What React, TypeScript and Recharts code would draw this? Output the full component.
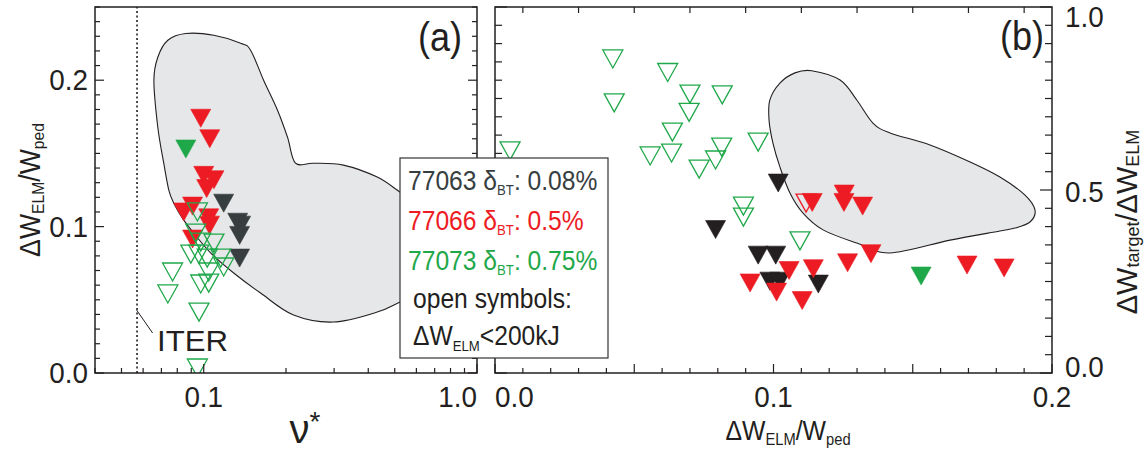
import React from "react";
import { ScatterChart, Scatter, XAxis, YAxis, ReferenceLine } from "recharts";

const FONT = "'Liberation Sans', Arial, Helvetica, sans-serif";
const INK = "#231f20";
const RED = "#ed1c24";
const GREEN = "#1fa84a";
const SLATE = "#373e40";
const BLACK = "#231f20";
const BLOB = "#e6e7e8";

// ---- panel (a): nu* vs dW_ELM/W_ped ----
const blobA = [
  { x: 0.086, y: 0.2319 }, { x: 0.1088, y: 0.2307 }, { x: 0.1365, y: 0.2253 }, { x: 0.1484, y: 0.2205 },
  { x: 0.1656, y: 0.2 }, { x: 0.1862, y: 0.1795 }, { x: 0.2026, y: 0.161 }, { x: 0.2167, y: 0.1433 },
  { x: 0.252, y: 0.1433 }, { x: 0.3243, y: 0.142 }, { x: 0.4315, y: 0.1338 }, { x: 0.5236, y: 0.1235 },
  { x: 0.619, y: 0.1147 }, { x: 0.733, y: 0.101 }, { x: 0.764, y: 0.084 }, { x: 0.703, y: 0.0635 },
  { x: 0.594, y: 0.0519 }, { x: 0.524, y: 0.0485 }, { x: 0.4315, y: 0.0416 }, { x: 0.2984, y: 0.0348 },
  { x: 0.2131, y: 0.0396 }, { x: 0.1614, y: 0.0546 }, { x: 0.1287, y: 0.0683 }, { x: 0.1061, y: 0.0819 },
  { x: 0.0919, y: 0.0956 }, { x: 0.0845, y: 0.1044 }, { x: 0.0777, y: 0.116 }, { x: 0.0745, y: 0.1249 },
  { x: 0.0714, y: 0.1433 }, { x: 0.0679, y: 0.1679 }, { x: 0.0657, y: 0.2 }, { x: 0.0679, y: 0.2157 },
  { x: 0.0739, y: 0.2273 },
];
const red77066A = [
  { x: 0.0975, y: 0.174 }, { x: 0.1052, y: 0.16 }, { x: 0.1, y: 0.135 }, { x: 0.109, y: 0.132 },
  { x: 0.1025, y: 0.126 }, { x: 0.091, y: 0.114 }, { x: 0.0845, y: 0.11 }, { x: 0.1043, y: 0.106 },
  { x: 0.105, y: 0.101 }, { x: 0.091, y: 0.0915 },
];
const slate77063A = [
  { x: 0.1183, y: 0.116 }, { x: 0.1331, y: 0.103 }, { x: 0.1365, y: 0.101 }, { x: 0.1353, y: 0.094 },
  { x: 0.1353, y: 0.0785 },
];
const green77073FilledA = [{ x: 0.086, y: 0.153 }];
const green77073OpenA = [
  { x: 0.0948, y: 0.11 }, { x: 0.0935, y: 0.0956 }, { x: 0.0975, y: 0.0894 }, { x: 0.109, y: 0.0887 },
  { x: 0.0897, y: 0.0812 }, { x: 0.0959, y: 0.0812 }, { x: 0.103, y: 0.0785 }, { x: 0.1154, y: 0.0785 },
  { x: 0.1183, y: 0.0724 }, { x: 0.1043, y: 0.069 }, { x: 0.0975, y: 0.0608 }, { x: 0.1043, y: 0.0614 },
  { x: 0.0769, y: 0.069 }, { x: 0.0739, y: 0.054 }, { x: 0.0961, y: 0.0416 }, { x: 0.0948, y: 0.0034 },
];
const iterNu = 0.057;
const iterPointer = [{ x: 0.0568, y: 0.043 }, { x: 0.065, y: 0.0273 }];
const nuTicks = [0.04, 0.05, 0.06, 0.07, 0.08, 0.09, 0.1, 0.2, 0.3, 0.4, 0.5, 0.6, 0.7, 0.8, 0.9, 1];
const nuLabels = [{ v: 0.1, t: "0.1", a: "middle" }, { v: 1, t: "1.0", a: "end" }];
const fracTicks = [0, 0.01, 0.02, 0.03, 0.04, 0.05, 0.06, 0.07, 0.08, 0.09, 0.1, 0.11, 0.12, 0.13, 0.14,
  0.15, 0.16, 0.17, 0.18, 0.19, 0.2, 0.21, 0.22, 0.23, 0.24, 0.25];
const fracLabels = [{ v: 0, t: "0.0" }, { v: 0.1, t: "0.1" }, { v: 0.2, t: "0.2" }];

// ---- panel (b): dW_ELM/W_ped vs dW_target/dW_ELM ----
const blobB = [
  { x: 0.1137, y: 0.826 }, { x: 0.1239, y: 0.8005 }, { x: 0.1299, y: 0.746 }, { x: 0.1357, y: 0.683 },
  { x: 0.1418, y: 0.656 }, { x: 0.1562, y: 0.623 }, { x: 0.1706, y: 0.5765 }, { x: 0.1813, y: 0.5355 },
  { x: 0.1903, y: 0.486 }, { x: 0.1939, y: 0.445 }, { x: 0.1921, y: 0.4126 }, { x: 0.1867, y: 0.396 },
  { x: 0.1813, y: 0.388 }, { x: 0.1634, y: 0.363 }, { x: 0.1418, y: 0.328 }, { x: 0.1299, y: 0.355 },
  { x: 0.1178, y: 0.391 }, { x: 0.1106, y: 0.437 }, { x: 0.1059, y: 0.492 }, { x: 0.1023, y: 0.563 },
  { x: 0.0998, y: 0.628 }, { x: 0.0984, y: 0.691 }, { x: 0.0987, y: 0.746 }, { x: 0.1023, y: 0.792 },
  { x: 0.1077, y: 0.82 },
];
const black77063B = [
  { x: 0.1017, y: 0.519 }, { x: 0.0792, y: 0.392 }, { x: 0.0945, y: 0.322 }, { x: 0.1008, y: 0.322 },
  { x: 0.0987, y: 0.251 }, { x: 0.1023, y: 0.251 }, { x: 0.1161, y: 0.243 },
];
const red77066B = [
  { x: 0.1139, y: 0.466 }, { x: 0.1254, y: 0.489 }, { x: 0.1253, y: 0.466 }, { x: 0.132, y: 0.456 },
  { x: 0.0916, y: 0.246 }, { x: 0.1056, y: 0.28 }, { x: 0.1143, y: 0.285 }, { x: 0.1011, y: 0.221 },
  { x: 0.1103, y: 0.198 }, { x: 0.1266, y: 0.301 }, { x: 0.135, y: 0.326 }, { x: 0.1695, y: 0.295 },
  { x: 0.1828, y: 0.287 },
];
const redOpen77066B = [{ x: 0.1117, y: 0.464 }];
const green77073FilledB = [{ x: 0.153, y: 0.265 }];
const green77073OpenB = [
  { x: 0.0423, y: 0.858 }, { x: 0.0428, y: 0.738 }, { x: 0.062, y: 0.821 }, { x: 0.07, y: 0.762 },
  { x: 0.0697, y: 0.712 }, { x: 0.0816, y: 0.76 }, { x: 0.0637, y: 0.658 }, { x: 0.0634, y: 0.601 },
  { x: 0.0557, y: 0.593 }, { x: 0.0733, y: 0.557 }, { x: 0.0792, y: 0.582 }, { x: 0.0814, y: 0.617 },
  { x: 0.0945, y: 0.631 }, { x: 0.0054, y: 0.607 }, { x: 0.0892, y: 0.456 }, { x: 0.0892, y: 0.426 },
  { x: 0.1095, y: 0.361 },
];
const dwTicks = [0, 0.01, 0.02, 0.03, 0.04, 0.05, 0.06, 0.07, 0.08, 0.09, 0.1, 0.11, 0.12, 0.13, 0.14,
  0.15, 0.16, 0.17, 0.18, 0.19, 0.2];
const dwTopTicks = [0.01, 0.03, 0.05, 0.07, 0.09, 0.11, 0.13, 0.15, 0.17, 0.19];
const dwLabels = [{ v: 0, t: "0.0", a: "start" }, { v: 0.1, t: "0.1", a: "middle" }, { v: 0.2, t: "0.2", a: "middle" }];
const ratioTicks = [0, 0.05, 0.1, 0.15, 0.2, 0.25, 0.3, 0.35, 0.4, 0.45, 0.5, 0.55, 0.6, 0.65, 0.7, 0.75,
  0.8, 0.85, 0.9, 0.95, 1];
const ratioLabels = [{ v: 0, t: "0.0", dy: -6 }, { v: 0.5, t: "0.5", dy: 2 }, { v: 1, t: "1.0", dy: 10 }];

const A_W = 382; // plot box sizes, used for mirrored ticks
const B_W = 557;
const PLOT_H = 366;

const same = (a: number, b: number) => Math.abs(a - b) < 1e-9;
const isMajor = (v: number, step: number) => Math.abs(v / step - Math.round(v / step)) < 1e-6;

function T({ x, y, size, anchor = "start", color = INK, sx = 1, rotate = 0, children, spacing }: any) {
  return (
    <text transform={`translate(${x},${y}) rotate(${rotate}) scale(${sx},1)`} fontSize={size}
      textAnchor={anchor} fill={color} fontFamily={FONT} letterSpacing={spacing}>{children}</text>
  );
}

function smoothClosed(pts: { x: number; y: number }[]) {
  const n = pts.length;
  let d = `M${pts[0].x},${pts[0].y}`;
  for (let i = 0; i < n; i++) {
    const p0 = pts[(i - 1 + n) % n], p1 = pts[i], p2 = pts[(i + 1) % n], p3 = pts[(i + 2) % n];
    d += ` C${p1.x + (p2.x - p0.x) / 6},${p1.y + (p2.y - p0.y) / 6} ${p2.x - (p3.x - p1.x) / 6},${p2.y - (p3.y - p1.y) / 6} ${p2.x},${p2.y}`;
  }
  return d + " Z";
}

const BlobLine = (p: any) => {
  const pts = (p.points || []).filter((q: any) => q.x != null && q.y != null);
  if (pts.length < 3) return <g />;
  return <path d={smoothClosed(pts)} fill={BLOB} stroke={INK} strokeWidth={1.1} />;
};

const NoDot = () => <g />;

function Tri({ cx, cy, color, open }: any) {
  if (cx == null || cy == null) return <g />;
  const w = 10, h = 9;
  return (
    <polygon points={`${cx - w},${cy - h} ${cx + w},${cy - h} ${cx},${cy + h}`}
      fill={open ? "none" : color} stroke={color} strokeWidth={open ? 1.3 : 0.6} strokeLinejoin="miter" />
  );
}
const tri = (color: string, open = false) => (p: any) => <Tri cx={p.cx} cy={p.cy} color={color} open={open} />;

// ticks: drawn inward, with a mirrored copy on the opposite side
const NuTick = ({ x, y, payload }: any) => {
  const lab = nuLabels.find((l) => same(l.v, payload.value));
  const len = lab ? 9 : 5;
  return (
    <g>
      <line x1={x} x2={x} y1={y} y2={y - len} stroke={INK} strokeWidth={1.2} />
      {lab && <T x={x} y={y + 34} size={29} sx={0.96} anchor={lab.a}>{lab.t}</T>}
    </g>
  );
};

const FracTick = ({ x, y, payload }: any) => {
  const lab = fracLabels.find((l) => same(l.v, payload.value));
  const len = lab ? 9 : 5;
  return (
    <g>
      <line x1={x} x2={x + len} y1={y} y2={y} stroke={INK} strokeWidth={1.2} />
      <line x1={x + A_W} x2={x + A_W - len} y1={y} y2={y} stroke={INK} strokeWidth={1.2} />
      {lab && <T x={x - 7} y={y + 10} size={29} sx={0.96} anchor="end">{lab.t}</T>}
    </g>
  );
};

const DwTick = ({ x, y, payload }: any) => {
  const v = payload.value;
  const lab = dwLabels.find((l) => same(l.v, v));
  const len = isMajor(v, 0.05) ? 9 : 5;
  const top = dwTopTicks.some((t) => same(t, v));
  return (
    <g>
      <line x1={x} x2={x} y1={y} y2={y - len} stroke={INK} strokeWidth={1.2} />
      {top && <line x1={x} x2={x} y1={y - PLOT_H} y2={y - PLOT_H + 6} stroke={INK} strokeWidth={1.2} />}
      {lab && <T x={x} y={y + 34} size={29} sx={0.96} anchor={lab.a}>{lab.t}</T>}
    </g>
  );
};

const RatioTick = ({ x, y, payload }: any) => {
  const v = payload.value;
  const lab = ratioLabels.find((l) => same(l.v, v));
  const len = isMajor(v, 0.5) ? 12 : 7;
  return (
    <g>
      <line x1={x} x2={x - len} y1={y} y2={y} stroke={INK} strokeWidth={1.2} />
      <line x1={x - B_W} x2={x - B_W + len} y1={y} y2={y} stroke={INK} strokeWidth={1.2} />
      {lab && <T x={x + 13} y={y + 10 + lab.dy} size={29} sx={0.96}>{lab.t}</T>}
    </g>
  );
};

function PanelA() {
  return (
    <ScatterChart width={480} height={455} margin={{ top: 7, right: 3, bottom: 52, left: 35 }}>
      <XAxis type="number" dataKey="x" scale="log" domain={[0.04, 1]} ticks={nuTicks} interval={0}
        allowDataOverflow axisLine={false} tickLine={false} tickSize={0} tickMargin={0} height={30}
        tick={(p: any) => <NuTick {...p} />} />
      <YAxis type="number" dataKey="y" domain={[0, 0.25]} ticks={fracTicks} interval={0}
        allowDataOverflow axisLine={false} tickLine={false} tickSize={0} tickMargin={0} width={60}
        tick={(p: any) => <FracTick {...p} />} />
      <Scatter data={blobA} line={BlobLine} lineType="joint" shape={NoDot} isAnimationActive={false} />
      <ReferenceLine x={iterNu} stroke={INK} strokeWidth={1.6} strokeDasharray="2 2.5" />
      <ReferenceLine segment={iterPointer} stroke={INK} strokeWidth={1} />
      <Scatter data={red77066A} shape={tri(RED)} isAnimationActive={false} />
      <Scatter data={slate77063A} shape={tri(SLATE)} isAnimationActive={false} />
      <Scatter data={green77073FilledA} shape={tri(GREEN)} isAnimationActive={false} />
      <Scatter data={green77073OpenA} shape={tri(GREEN, true)} isAnimationActive={false} />
    </ScatterChart>
  );
}

function PanelB() {
  return (
    <ScatterChart width={667} height={455} margin={{ top: 7, right: 35, bottom: 52, left: 15 }}>
      <XAxis type="number" dataKey="x" domain={[0, 0.2]} ticks={dwTicks} interval={0}
        allowDataOverflow axisLine={false} tickLine={false} tickSize={0} tickMargin={0} height={30}
        tick={(p: any) => <DwTick {...p} />} />
      <YAxis type="number" dataKey="y" orientation="right" domain={[0, 1]} ticks={ratioTicks} interval={0}
        allowDataOverflow axisLine={false} tickLine={false} tickSize={0} tickMargin={0} width={60}
        tick={(p: any) => <RatioTick {...p} />} />
      <Scatter data={blobB} line={BlobLine} lineType="joint" shape={NoDot} isAnimationActive={false} />
      <Scatter data={black77063B} shape={tri(BLACK)} isAnimationActive={false} />
      <Scatter data={redOpen77066B} shape={tri(RED, true)} isAnimationActive={false} />
      <Scatter data={red77066B} shape={tri(RED)} isAnimationActive={false} />
      <Scatter data={green77073FilledB} shape={tri(GREEN)} isAnimationActive={false} />
      <Scatter data={green77073OpenB} shape={tri(GREEN, true)} isAnimationActive={false} />
    </ScatterChart>
  );
}

function Overlay() {
  const legendRows = [
    { id: "77063", pct: "0.08%", color: SLATE },
    { id: "77066", pct: "0.5%", color: RED },
    { id: "77073", pct: "0.75%", color: GREEN },
  ];
  return (
    <svg width={1147} height={455} style={{ position: "absolute", left: 0, top: 0, pointerEvents: "none" }}>
      {/* plot frames */}
      <rect x={95} y={7} width={A_W} height={PLOT_H} fill="none" stroke={INK} strokeWidth={1.5} />
      <rect x={495} y={7} width={B_W} height={PLOT_H} fill="none" stroke={INK} strokeWidth={1.5} />

      <T x={418} y={51} size={41} sx={0.88}>(a)</T>
      <T x={1000} y={50} size={41} sx={0.88}>(b)</T>
      <T x={157} y={351} size={30} sx={1.04}>ITER</T>

      {/* legend */}
      <rect x={400} y={158} width={208} height={200} fill="#fff" stroke="#333" strokeWidth={1.2} />
      {legendRows.map((r, i) => (
        <text key={r.id} transform={`translate(408,${190 + i * 40}) scale(0.88,1)`} fontFamily={FONT}
          fontSize={28} fill={r.color}>
          {r.id} δ<tspan fontSize={15} dy={5}>BT</tspan><tspan dy={-5}>: {r.pct}</tspan>
        </text>
      ))}
      <text transform="translate(413,308) scale(0.88,1)" fontFamily={FONT} fontSize={28} fill={INK}>open symbols:</text>
      <text transform="translate(413,345) scale(0.88,1)" fontFamily={FONT} fontSize={28} fill={INK}>
        ΔW<tspan fontSize={15} dy={6}>ELM</tspan><tspan dy={-6}>&lt;200kJ</tspan>
      </text>

      {/* axis titles */}
      <text transform="translate(40,190) rotate(-90) scale(0.92,1)" textAnchor="middle" fontFamily={FONT} fontSize={29} fill={INK}>
        ΔW<tspan fontSize={17} dy={4}>ELM</tspan><tspan dy={-4}>/W</tspan><tspan fontSize={17} dy={4}>ped</tspan>
      </text>
      <text transform="translate(305,443)" textAnchor="middle" fontFamily={FONT} fontSize={40} fill={INK}>
        ν<tspan fontSize={28} dy={-12}>*</tspan>
      </text>
      <text transform="translate(788,440) scale(0.92,1)" textAnchor="middle" fontFamily={FONT} fontSize={27} fill={INK}>
        ΔW<tspan fontSize={16} dy={5}>ELM</tspan><tspan dy={-5}>/W</tspan><tspan fontSize={16} dy={5}>ped</tspan>
      </text>
      <text transform="translate(1137,222) rotate(-90)" textAnchor="middle" fontFamily={FONT} fontSize={29} fill={INK}>
        ΔW<tspan fontSize={18} dy={2}>target</tspan><tspan dy={-2}>/ΔW</tspan><tspan fontSize={18} dy={2}>ELM</tspan>
      </text>
    </svg>
  );
}

export default function App() {
  return (
    <div style={{ position: "absolute", left: 0, top: 0, width: 1147, height: 455, background: "#fff", overflow: "hidden" }}>
      <div style={{ position: "absolute", left: 0, top: 0 }}>
        <PanelA />
      </div>
      <div style={{ position: "absolute", left: 480, top: 0 }}>
        <PanelB />
      </div>
      <Overlay />
    </div>
  );
}
